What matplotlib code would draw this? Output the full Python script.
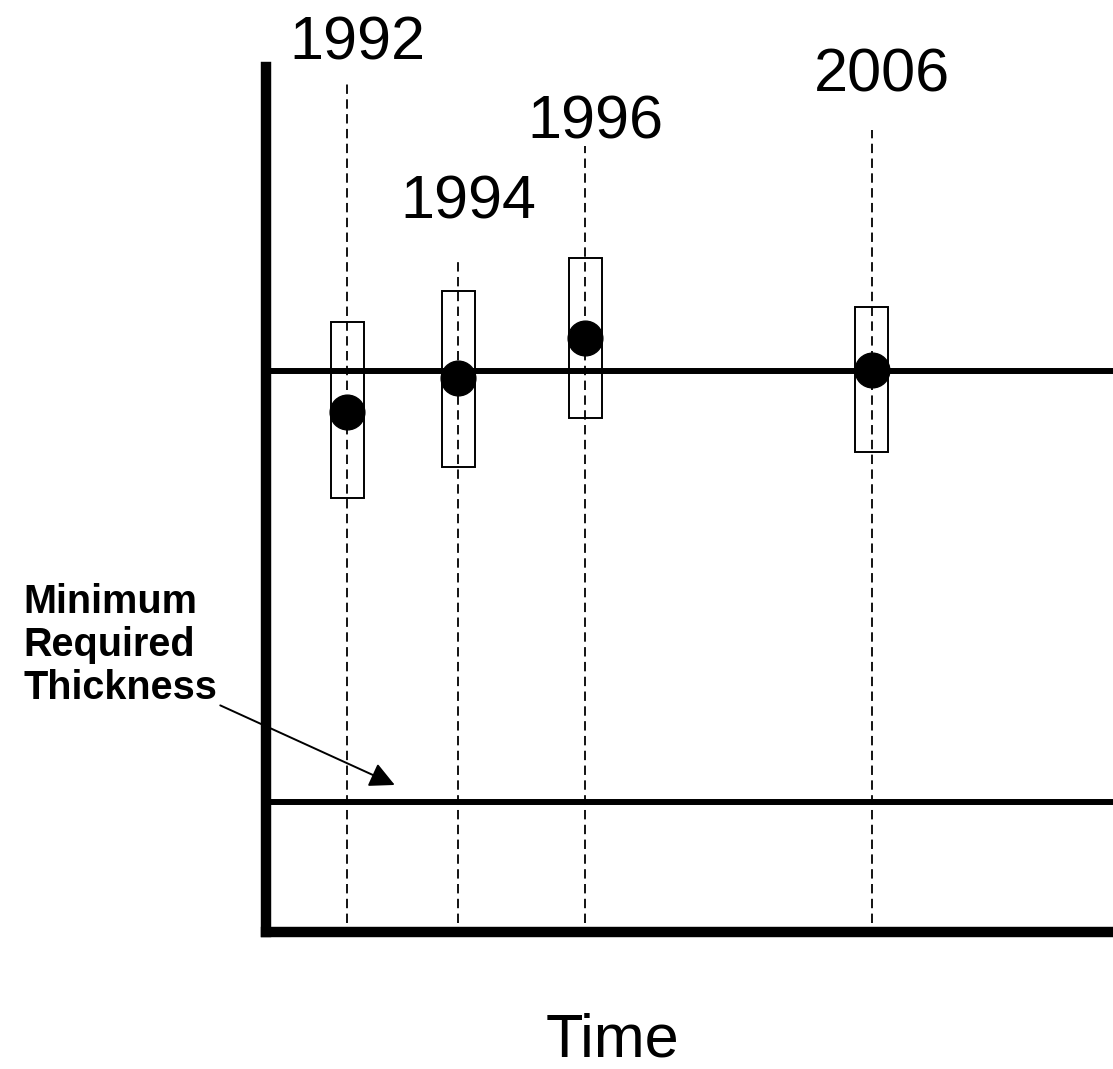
import matplotlib
matplotlib.use("Agg")
import matplotlib.pyplot as plt
from matplotlib.patches import Rectangle

plt.rcParams['font.family'] = ['Liberation Sans', 'DejaVu Sans']

# ---- data (arbitrary schematic units) ----
years = ['1992', '1994', '1996', '2006']
time_pos = [9.6, 22.7, 37.7, 71.5]
estimate = [60.1, 64.0, 68.7, 65.0]
lower = [50.2, 53.8, 59.4, 55.5]
upper = [70.5, 74.1, 77.9, 72.3]
guide_top = [98.4, 77.9, 90.9, 92.7]
label_y = [100.9, 82.5, 91.7, 97.2]
nominal = 64.9
minimum_required = 15.0
arrow_start = (-5.4, 26.2)
arrow_tip = (15.2, 17.0)

W, H = 1113, 1069
fig = plt.figure(figsize=(W / 100, H / 100), dpi=100)
ax = fig.add_axes([266 / W, (H - 932) / H, (W - 266) / W, (932 - 67) / H])
ax.set_xlim(0, 100)
ax.set_ylim(0, 100)
ax.set_xticks([])
ax.set_yticks([])
for s in ['top', 'right']:
    ax.spines[s].set_visible(False)
for s in ['left', 'bottom']:
    ax.spines[s].set_linewidth(7.5)
ax.spines['bottom'].set_capstyle('projecting')

# horizontal reference lines
ax.axhline(nominal, color='black', lw=4.3, zorder=2)
ax.axhline(minimum_required, color='black', lw=4.3, zorder=2)

box_w = 3.9
for x, e, lo, hi, top in zip(time_pos, estimate, lower, upper, guide_top):
    ax.add_patch(Rectangle((x - box_w / 2, lo), box_w, hi - lo, fill=False,
                           edgecolor='black', lw=1.4, zorder=3))
    ax.vlines(x, 1.0, top, color='black', lw=1.3, linestyle=(0, (5.2, 3)), zorder=4)
    ax.plot([x], [e], 'o', color='black', markersize=25, zorder=5)

for x, yr, ly in zip(time_pos, years, label_y):
    ax.text(x + 1.2, ly, yr, ha='center', va='baseline', fontsize=44,
            clip_on=False)

ax.text(40.85, -14.4, 'Time', ha='center', va='baseline', fontsize=44, clip_on=False)

for txt, by in zip(['Minimum', 'Required', 'Thickness'], [613, 656, 699]):
    fig.text(23 / W, 1 - by / H, txt, ha='left', va='baseline', fontsize=28.5,
             fontweight='bold')

ax.annotate('', xy=arrow_tip, xytext=arrow_start, annotation_clip=False,
            arrowprops=dict(arrowstyle='-|>', color='black', lw=1.4,
                            mutation_scale=38, shrinkA=0, shrinkB=0))

fig.savefig('out.png', dpi=100)
